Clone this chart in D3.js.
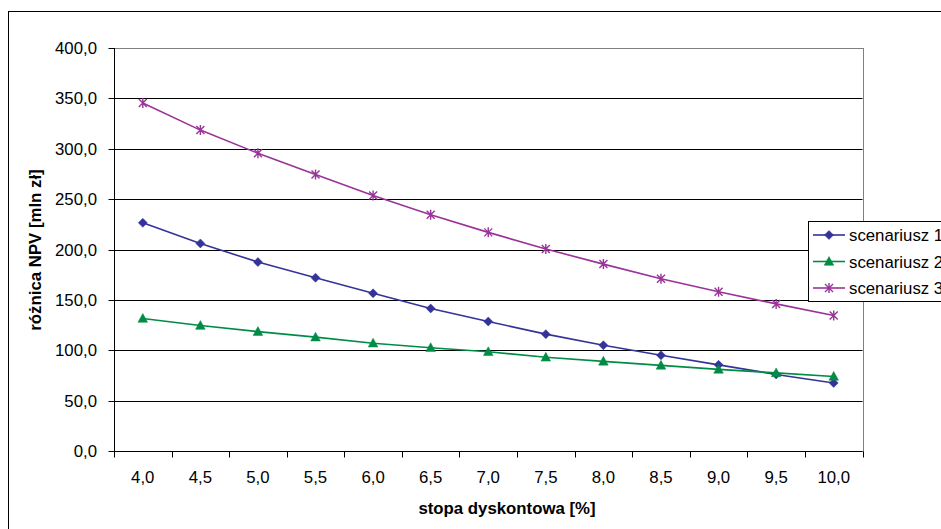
<!DOCTYPE html>
<html>
<head>
<meta charset="utf-8">
<script src="https://cdn.jsdelivr.net/npm/d3@7"></script>
<style>
  html, body { margin: 0; padding: 0; background: #fff; }
  svg { display: block; font-family: Arial, "Liberation Sans", sans-serif; }
</style>
</head>
<body>
<svg id="chart" width="941" height="529"></svg>
<script>
// Discount rate categories (x axis)
const rates = ["4,0", "4,5", "5,0", "5,5", "6,0", "6,5", "7,0", "7,5", "8,0", "8,5", "9,0", "9,5", "10,0"];

// NPV difference per scenario [mln zł]
const scenario1 = [226.5, 206, 187.5, 172, 156.5, 141.5, 128.5, 116, 105, 95, 85.5, 76, 67.5];
const scenario2 = [131.5, 124.5, 118.5, 113, 107, 102.5, 98.5, 93, 89, 85, 81, 77.5, 74];
const scenario3 = [345.5, 318.5, 295.5, 274.5, 253.5, 234.5, 217, 200.5, 185.5, 171, 158, 146, 134.5];

const seriesNames = ["scenariusz 1", "scenariusz 2", "scenariusz 3"];
const yTicks = [0, 50, 100, 150, 200, 250, 300, 350, 400];

const colors = ["#333399", "#008c45", "#993399"];
const markers = ["diamond", "triangle", "star"];
const series = [scenario1, scenario2, scenario3].map((values, i) => ({
  name: seriesNames[i], values, color: colors[i], marker: markers[i]
}));

const svg = d3.select("#chart");
const plot = { left: 114, right: 862.5, top: 48, bottom: 451 };
const fontSize = 16.8;

const x = d3.scaleBand().domain(rates).range([plot.left, plot.right]).padding(0);
const y = d3.scaleLinear().domain([0, 400]).range([plot.bottom, plot.top]);
const fmt = v => d3.format(".1f")(v).replace(".", ",");
const crisp = v => Math.round(v) + 0.5;

// outer chart frame
svg.append("rect")
  .attr("x", 8.5).attr("y", 11.5).attr("width", 960).attr("height", 560)
  .attr("fill", "#fff").attr("stroke", "#000").attr("stroke-width", 1);

// plot area border
svg.append("rect")
  .attr("x", crisp(plot.left)).attr("y", crisp(plot.top))
  .attr("width", Math.round(plot.right) - Math.round(plot.left))
  .attr("height", Math.round(plot.bottom) - Math.round(plot.top))
  .attr("fill", "#fff").attr("stroke", "#808080");

// horizontal gridlines
svg.append("g").selectAll("line")
  .data(yTicks.filter(t => t > 0 && t < 400))
  .join("line")
  .attr("x1", plot.left).attr("x2", plot.right)
  .attr("y1", d => crisp(y(d))).attr("y2", d => crisp(y(d)))
  .attr("stroke", "#000").attr("stroke-width", 1);

// y axis
const yAxis = svg.append("g");
yAxis.append("line")
  .attr("x1", crisp(plot.left)).attr("x2", crisp(plot.left))
  .attr("y1", plot.top).attr("y2", crisp(plot.bottom))
  .attr("stroke", "#000");
yAxis.selectAll("line.tick").data(yTicks).join("line").attr("class", "tick")
  .attr("x1", crisp(plot.left) - 6).attr("x2", crisp(plot.left))
  .attr("y1", d => crisp(y(d))).attr("y2", d => crisp(y(d)))
  .attr("stroke", "#000");
yAxis.selectAll("text").data(yTicks).join("text")
  .attr("x", 97).attr("y", d => y(d)).attr("dy", "0.36em")
  .attr("text-anchor", "end").attr("font-size", fontSize).attr("fill", "#000")
  .text(fmt);

// x axis
const xAxis = svg.append("g");
xAxis.append("line")
  .attr("x1", plot.left).attr("x2", plot.right)
  .attr("y1", crisp(plot.bottom)).attr("y2", crisp(plot.bottom))
  .attr("stroke", "#000");
const edges = rates.map(r => x(r)).concat([x(rates[rates.length - 1]) + x.bandwidth()]);
xAxis.selectAll("line.tick").data(edges).join("line").attr("class", "tick")
  .attr("x1", d => crisp(d)).attr("x2", d => crisp(d))
  .attr("y1", crisp(plot.bottom)).attr("y2", crisp(plot.bottom) + 6)
  .attr("stroke", "#000");
xAxis.selectAll("text").data(rates).join("text")
  .attr("x", d => x(d) + x.bandwidth() / 2).attr("y", 477).attr("dy", "0.36em")
  .attr("text-anchor", "middle").attr("font-size", fontSize).attr("fill", "#000")
  .text(d => d);

// axis titles
svg.append("text")
  .attr("x", 507).attr("y", 508).attr("dy", "0.36em")
  .attr("text-anchor", "middle").attr("font-size", fontSize).attr("font-weight", "bold")
  .text("stopa dyskontowa [%]");
svg.append("text")
  .attr("transform", "translate(35,250) rotate(-90)")
  .attr("dy", "0.36em")
  .attr("text-anchor", "middle").attr("font-size", fontSize).attr("font-weight", "bold")
  .text("różnica NPV [mln zł]");

// marker drawing
function drawMarker(g, type, color) {
  if (type === "diamond") {
    g.append("path").attr("d", "M0,-4.5L4.5,0L0,4.5L-4.5,0Z").attr("fill", color).attr("stroke", color).attr("stroke-width", 0.5);
  } else if (type === "triangle") {
    g.append("path").attr("d", "M0,-5L4.8,3.8L-4.8,3.8Z").attr("fill", color).attr("stroke", color).attr("stroke-width", 0.5);
  } else {
    g.append("path").attr("d", "M-4,-4L4,4M-4,4L4,-4M0,-5L0,5")
      .attr("stroke", color).attr("stroke-width", 1.4).attr("fill", "none");
  }
}

const line = d3.line()
  .x((d, i) => x(rates[i]) + x.bandwidth() / 2)
  .y(d => y(d));

series.forEach(s => {
  const g = svg.append("g");
  g.append("path").datum(s.values)
    .attr("d", line).attr("fill", "none")
    .attr("stroke", s.color).attr("stroke-width", 1.6);
  s.values.forEach((v, i) => {
    const m = g.append("g").attr("transform", `translate(${x(rates[i]) + x.bandwidth() / 2},${y(v)})`);
    drawMarker(m, s.marker, s.color);
  });
});

// legend
const legend = svg.append("g");
legend.append("rect")
  .attr("x", 808.5).attr("y", 221.5).attr("width", 200).attr("height", 80)
  .attr("fill", "#fff").attr("stroke", "#000");
series.forEach((s, i) => {
  const cy = 235 + i * 26.5;
  legend.append("line")
    .attr("x1", 813).attr("x2", 845).attr("y1", cy).attr("y2", cy)
    .attr("stroke", s.color).attr("stroke-width", 1.6);
  drawMarker(legend.append("g").attr("transform", `translate(829,${cy})`), s.marker, s.color);
  legend.append("text")
    .attr("x", 849).attr("y", cy).attr("dy", "0.36em")
    .attr("font-size", fontSize).attr("fill", "#000")
    .text(s.name);
});
</script>
</body>
</html>
